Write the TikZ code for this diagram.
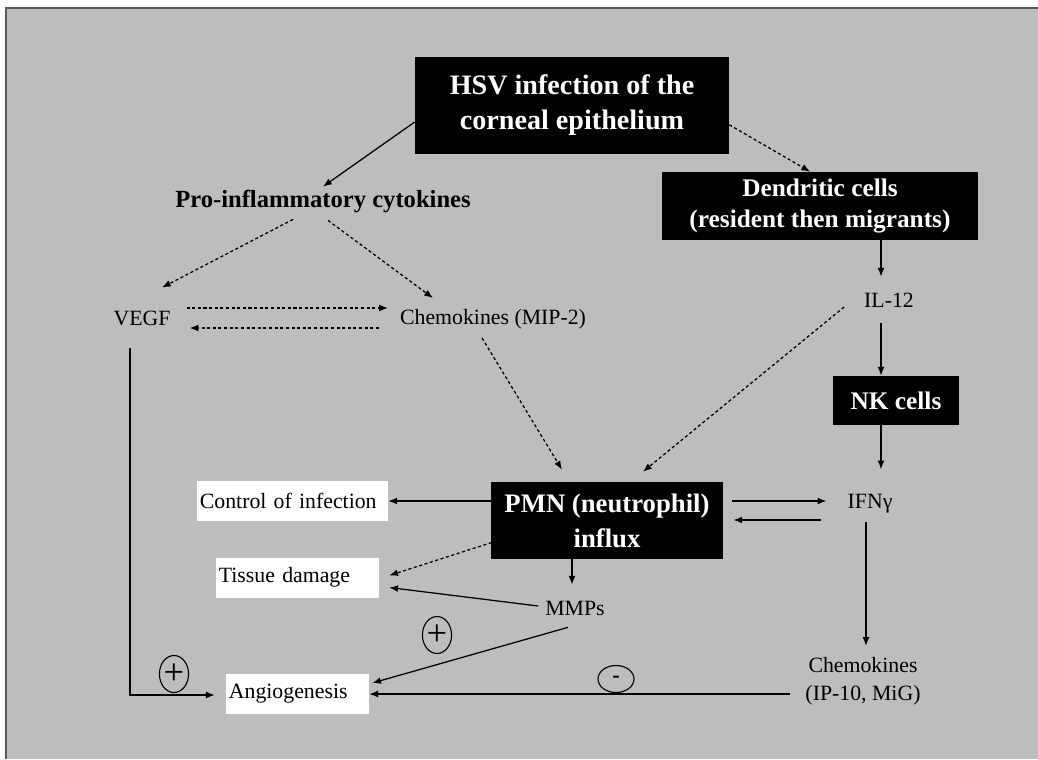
\documentclass[tikz,border=0pt]{standalone}
\usepackage{fontspec}
\setmainfont{Liberation Serif}
\usetikzlibrary{arrows.meta,positioning,shapes.geometric,calc}

\definecolor{panelgray}{gray}{0.74}
\definecolor{edgegray}{gray}{0.35}

\begin{document}
\begin{tikzpicture}[x=0.025cm, y=-0.025cm,
    blackbox/.style={fill=black, text=white, align=center, inner sep=0pt},
    whitebox/.style={fill=white, align=left, inner xsep=2pt, inner ysep=0pt, minimum height=1cm, font=\fontsize{15.5}{18}\selectfont},
    lbl/.style={inner sep=2pt, align=center, font=\fontsize{15.5}{20}\selectfont},
    sol/.style={-{Latex[length=2.2mm,width=1.7mm]}, line width=0.9pt},
    dsh/.style={sol, dash pattern=on 2.2pt off 1.8pt},
    sign/.style={draw, ellipse, line width=0.8pt, inner sep=0pt}]
    \useasboundingbox (0,0) rectangle (1038,759);

    % Panel
    \fill[panelgray] (6,8) rectangle (1038,759);
    \draw[edgegray, line width=1.2pt] (6,759) -- (6,8) -- (1038,8);

    % Black boxes
    \node[blackbox, minimum width=7.85cm, minimum height=2.425cm, font=\bfseries\fontsize{20}{25}\selectfont] (hsv) at (572,105.5) {HSV infection of the\\corneal epithelium};
    \node[blackbox, minimum width=7.9cm, minimum height=1.7cm, font=\bfseries\fontsize{18}{21.5}\selectfont] (dc) at (820,206) {Dendritic cells\\(resident then migrants)};
    \node[blackbox, minimum width=3.15cm, minimum height=1.225cm, font=\bfseries\fontsize{18}{21}\selectfont] (nk) at (896,400.5) {NK cells};
    \node[blackbox, minimum width=5.8cm, minimum height=1.925cm, font=\bfseries\fontsize{19}{25}\selectfont] (pmn) at (607,520.5) {PMN (neutrophil)\\influx};

    % Plain labels
    \node[lbl, font=\bfseries\fontsize{17.5}{20}\selectfont] (pro) at (323,201) {Pro-inflammatory cytokines};
    \node[lbl] (vegf) at (142,318) {VEGF};
    \node[lbl] (chemA) at (493,319) {Chemokines (MIP-2)};
    \node[lbl] (il12) at (889,300) {IL-12};
    \node[lbl] (ifng) at (870,504) {IFNγ};
    \node[lbl] (mmps) at (575,608) {MMPs};
    \node[lbl] (chemB) at (863,681) {Chemokines\\(IP-10, MiG)};

    % White boxes
    \node[whitebox, text width=4.63cm] (ctrl) at (292.5,501) {Control of infection};
    \node[whitebox, text width=3.93cm] (tissue) at (297.5,577.5) {Tissue damage};
    \node[whitebox, text width=3.43cm] (angio) at (297.5,694) {Angiogenesis};

    % Signs
    \node[sign, minimum width=0.7cm, minimum height=0.925cm, font=\fontsize{26}{26}\selectfont] (plusA) at (174,674) {+};
    \node[sign, minimum width=0.7cm, minimum height=0.925cm, font=\fontsize{26}{26}\selectfont] (plusB) at (437,635) {+};
    \node[sign, minimum width=0.9cm, minimum height=0.675cm, font=\bfseries\fontsize{16}{16}\selectfont] (minus) at (616,679) {-};

    % Top part
    \draw[sol] (hsv.186) -- (pro.north);
    \draw[dsh] (hsv.-7) -- (dc.106);
    \draw[dsh] ($(pro.south)+(-30,4)$) -- ($(vegf.north)+(20,-20)$);
    \draw[dsh] ($(pro.south)+(5,5)$) -- ($(chemA.north)+(-60,-8)$);
    \draw[dsh] ($(vegf.east)+(13,-10)$) -- ($(chemA.west)+(-9,-11)$);
    \draw[dsh] ($(chemA.west)+(-18,9)$) -- ($(vegf.east)+(16,10)$);

    % Right column
    \draw[sol] ($(dc.south)+(61,0)$) -- ($(il12.north)+(-8,-13)$);
    \draw[sol] ($(il12.south)+(-8,13)$) -- ($(nk.north)+(-15,0)$);
    \draw[sol] ($(nk.south)+(-15,0)$) -- ($(ifng.north)+(11,-22)$);
    \draw[sol] ($(ifng.south)+(-4,5)$) -- ($(chemB.north)+(3,-8)$);

    % Into PMN
    \draw[dsh] ($(il12.west)+(-17,7)$) -- ($(pmn.north)+(36,-10)$);
    \draw[dsh] ($(chemA.south)+(-11,6)$) -- ($(pmn.north)+(-45,-12)$);

    % Out of PMN
    \draw[sol] (pmn.west |- ctrl.east) -- (ctrl.east);
    \draw[sol] ($(pmn.east)+(9,-19.5)$) -- ($(ifng.west)+(-18,-3)$);
    \draw[sol] ($(ifng.west)+(-24,16)$) -- ($(pmn.east)+(10,-0.5)$);
    \draw[dsh] ($(pmn.west)+(1,22)$) -- ($(tissue.east)+(10,-2)$);
    \draw[sol] ($(pmn.south)+(-35,0)$) -- ($(mmps.north)+(-3,-13)$);

    % MMPs and angiogenesis
    \draw[sol] ($(mmps.west)+(-4,-2)$) -- ($(tissue.east)+(10,10)$);
    \draw[sol] ($(mmps.south)+(-7,9)$) -- ($(angio.east)+(3,-11)$);
    \draw[sol] ($(vegf.south)+(-12,20)$) |- ($(angio.west)+(-11,1)$);
    \draw[sol] ($(chemB.west |- angio.east)+(-12,0)$) -- (angio.east);
\end{tikzpicture}
\end{document}
